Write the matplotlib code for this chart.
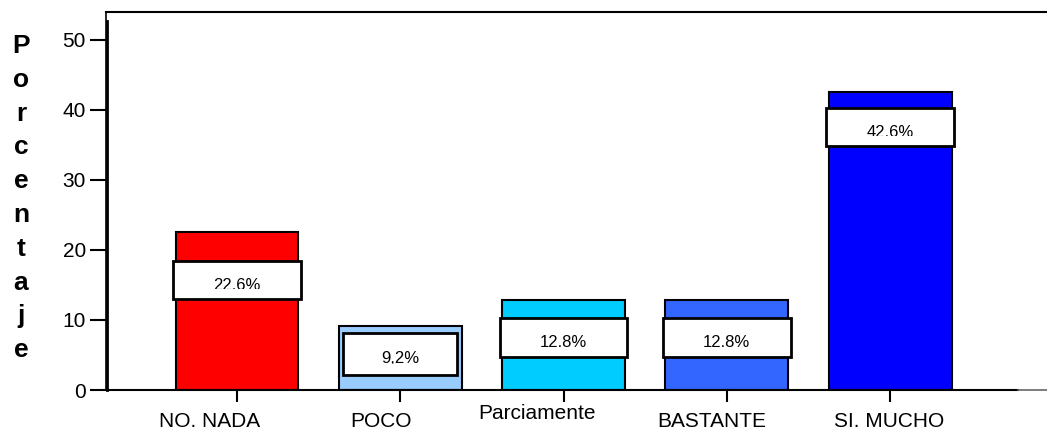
import matplotlib
matplotlib.use("Agg")
import matplotlib.pyplot as plt
from matplotlib.patches import Rectangle
from matplotlib.lines import Line2D
from matplotlib.transforms import ScaledTranslation

plt.rcParams["font.family"] = ["Liberation Sans", "DejaVu Sans"]

# Data
categories = ["NO. NADA", "POCO", "Parciamente", "BASTANTE", "SI. MUCHO"]
percentages = [22.6, 9.2, 12.8, 12.8, 42.6]
value_labels = ["22,6%", "9,2%", "12,8%", "12,8%", "42,6%"]
bar_colors = ["#FF0000", "#99CCFF", "#00CCFF", "#3366FF", "#0000FF"]
y_ticks = [0, 10, 20, 30, 40, 50]

# Label-box layout (distance of box centre below bar top, box size)
box_drop = [6.9, 4.0, 5.3, 5.3, 5.0]
box_height = [5.4, 6.0, 5.6, 5.6, 5.4]
box_width = [0.78, 0.70, 0.78, 0.78, 0.78]

# Category label nudges in pixels (dx, dy)
label_dx = [-27, -19, -27, -15, -1]
label_dy = [0, 0, 8, 0, 0]

W, H = 1047, 432
fig = plt.figure(figsize=(W / 100, H / 100), dpi=100)
ax = fig.add_axes([107 / W, 42 / H, (1018 - 107) / W, (390 - 21) / H])

x = list(range(len(categories)))
ax.bar(x, percentages, width=0.753, color=bar_colors,
       edgecolor="black", linewidth=1.5, zorder=2)

for xi, val, lab, drop, bh, bw in zip(x, percentages, value_labels,
                                      box_drop, box_height, box_width):
    centre = val - drop
    bottom = centre - bh / 2
    box = Rectangle((xi - bw / 2, bottom), bw, bh, facecolor="white",
                    edgecolor="black", linewidth=2, zorder=3)
    ax.add_patch(box)
    clip = Rectangle((xi - bw / 2, bottom + 1.45), bw, bh - 1.45,
                     transform=ax.transData, facecolor="none", edgecolor="none")
    t = ax.text(xi, centre - 1.4, lab, ha="center", va="baseline",
                fontsize=12, color="black", zorder=4)
    t.set_clip_path(clip)
    t.set_clip_on(True)

ax.set_xlim(-0.796, 4.783)
ax.set_ylim(0, 52.71)
ax.set_xticks(x)
ax.set_xticklabels(categories, fontsize=15)
ax.set_yticks(y_ticks)
ax.set_yticklabels([str(v) for v in y_ticks], fontsize=15)
ax.tick_params(axis="x", length=8.6, width=1.5, pad=7, direction="out")
ax.tick_params(axis="y", length=12.2, width=1.5, pad=3, direction="out")

for lbl, dx, dy in zip(ax.get_xticklabels(), label_dx, label_dy):
    lbl.set_transform(lbl.get_transform()
                      + ScaledTranslation(dx / 100, dy / 100, fig.dpi_scale_trans))

for side in ("top", "right"):
    ax.spines[side].set_visible(False)
ax.spines["left"].set_linewidth(2)
ax.spines["bottom"].set_linewidth(1.5)

# outer frame lines
fig.add_artist(Line2D([106 / W, 1046 / W], [(H - 12) / H, (H - 12) / H],
                      color="black", linewidth=1.5))
fig.add_artist(Line2D([105.5 / W, 105.5 / W], [(H - 12) / H, (H - 390) / H],
                      color="black", linewidth=1.2))
fig.add_artist(Line2D([1018 / W, 1047 / W], [(H - 390) / H, (H - 390) / H],
                      color="#666666", linewidth=1.2))

# vertical axis title, one letter per line
for k, ch in enumerate("Porcentaje"):
    fig.text(21 / W, (H - (53 + 33.8 * k)) / H, ch, ha="center", va="baseline",
             fontsize=19, fontweight="bold")

fig.savefig("out.png", dpi=100)
